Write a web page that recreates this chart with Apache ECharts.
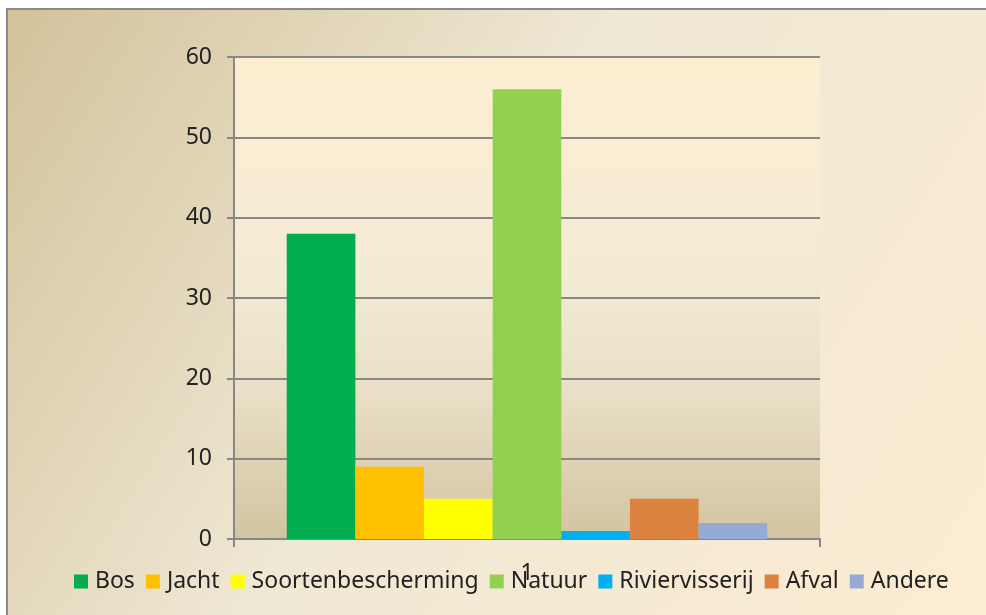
<!DOCTYPE html>
<html>
<head>
<meta charset="utf-8">
<script src="https://cdn.jsdelivr.net/npm/echarts@6/dist/echarts.min.js"></script>
<style>
  html, body { margin: 0; padding: 0; background: #fff; }
  #frame {
    position: absolute; left: 6px; top: 8px;
    width: 980px; height: 607px;
    border-left: 2px solid #8a8a8a; border-top: 2px solid #8a8a8a;
  }
  #chart { width: 980px; height: 607px; }
</style>
</head>
<body>
<div id="frame"><div id="chart"></div></div>
<script>
const categories = ['1']
const seriesNames = ['Bos', 'Jacht', 'Soortenbescherming', 'Natuur', 'Riviervisserij', 'Afval', 'Andere']
const seriesValues = [38, 9, 5, 56, 1, 5, 2]
const seriesColors = ['#00ae4f', '#ffc000', '#ffff00', '#92d050', '#00b0f0', '#dc8340', '#95aad4']

const font = '"Noto Sans", sans-serif'
const gridGray = '#878787'

const chart = echarts.init(document.getElementById('chart'))

const option = {
  backgroundColor: {
    type: 'linear', x: 0, y: 0, x2: 1, y2: 1,
    colorStops: [
      { offset: 0, color: '#d3c29b' },
      { offset: 0.45, color: '#efe8d4' },
      { offset: 1, color: '#fcecd2' },
    ],
  },
  textStyle: { fontFamily: font },
  animation: false,
  legend: {
    data: seriesNames,
    top: 555,
    left: 61,
    icon: 'rect',
    itemWidth: 14,
    itemHeight: 14,
    itemGap: 11,
    textStyle: { fontSize: 23, color: '#222', fontFamily: font, padding: [0, 0, 0, 2] },
  },
  grid: {
    left: 226,
    top: 47,
    right: 168,
    bottom: 78,
    show: true,
    borderWidth: 0,
    backgroundColor: {
      type: 'linear', x: 0, y: 0, x2: 0, y2: 1,
      colorStops: [
        { offset: 0, color: '#fdeed1' },
        { offset: 0.45, color: '#f4ebd5' },
        { offset: 0.7, color: '#e8dfc6' },
        { offset: 1, color: '#d3c4a1' },
      ],
    },
  },
  xAxis: {
    type: 'category',
    data: categories,
    axisLine: { lineStyle: { color: gridGray, width: 2 } },
    axisTick: { show: true, length: 8, lineStyle: { color: gridGray, width: 2 } },
    axisLabel: { fontSize: 23, color: '#222', margin: 23, fontFamily: font },
  },
  yAxis: {
    type: 'value',
    min: 0,
    max: 60,
    interval: 10,
    axisLine: { show: true, lineStyle: { color: gridGray, width: 2 } },
    axisTick: { show: true, length: 7, lineStyle: { color: gridGray, width: 2 } },
    splitLine: { lineStyle: { color: gridGray, width: 2 } },
    axisLabel: { fontSize: 23, color: '#222', margin: 22, fontFamily: font },
  },
  series: seriesNames.map((name, i) => ({
    name: name,
    type: 'bar',
    data: [seriesValues[i]],
    barGap: '0%',
    barCategoryGap: '18%',
    itemStyle: { color: seriesColors[i] },
  })),
}

chart.setOption(option)
</script>
</body>
</html>
